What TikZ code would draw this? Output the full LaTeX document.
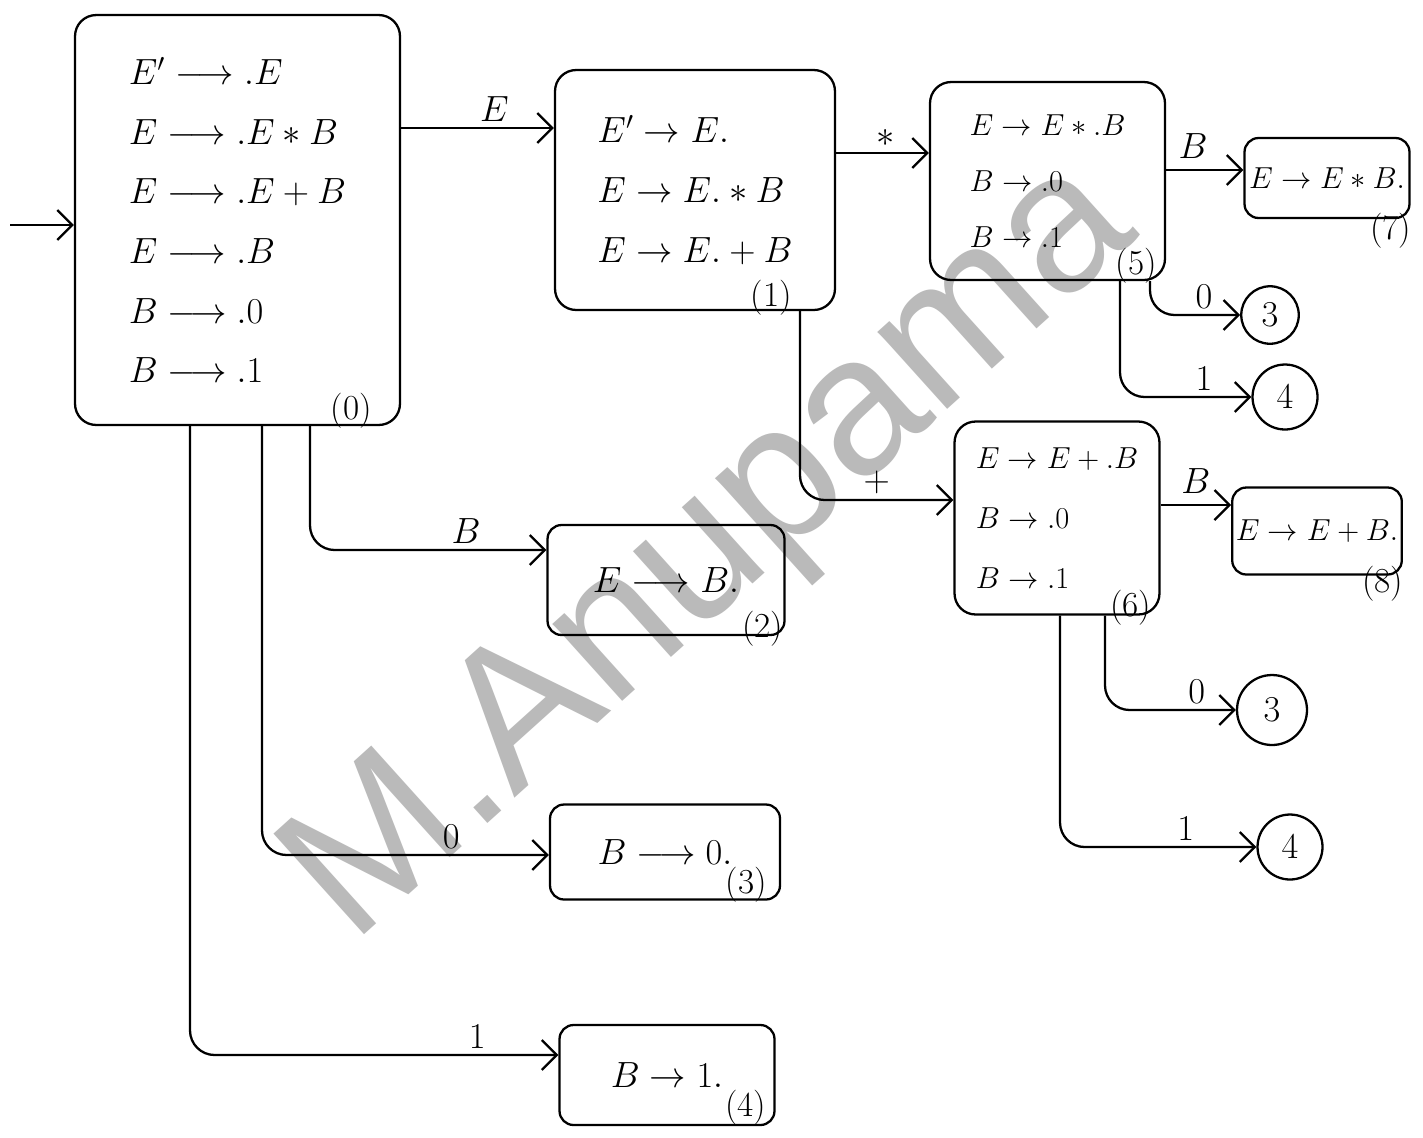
\documentclass[tikz,border=0pt]{standalone}
\usepackage{amsmath}
\usepackage{fontspec}
\newfontfamily\markfont{Liberation Sans}
\usetikzlibrary{positioning, arrows.meta, backgrounds}

\begin{document}
\begin{tikzpicture}[
    x = 0.02cm, y = -0.02cm,
    line width = 1.3pt,
    every node/.style = {font = \fontsize{20}{34}\selectfont},
    state/.style     = {draw, rounded corners = 12pt, align = left, inner sep = 2pt},
    leaf/.style      = {draw, rounded corners = 8pt, align = center, inner sep = 2pt},
    goto/.style      = {draw, circle, inner sep = 0pt},
    numlab/.style    = {font = \fontsize{20}{22}\selectfont, inner sep = 0pt},
    lab/.style       = {above, inner sep = 3pt, font = \fontsize{20}{22}\selectfont},
    arr/.style       = {-{Straight Barb[length=3mm, width=6mm]}, rounded corners = 14pt},
    watermark/.style = {font = \markfont\fontsize{112}{112}\selectfont, text = black!27, rotate = 42},
]
\useasboundingbox (0,0) rectangle (1423,1137);
\fill[white] (0,0) rectangle (1423,1137);

% ---------- watermark ----------
\node[watermark] (wm) at (715,555) {M.Anupama};

% ---------- item sets: (x, y) in px of the sheet ----------
\node[state, minimum width = 6.5cm, minimum height = 8.2cm] (s0) at (237.5,220)
    {$E' \longrightarrow .E$ \\ $E \longrightarrow .E*B$ \\ $E \longrightarrow .E+B$ \\
     $E \longrightarrow .B$ \\ $B \longrightarrow .0$ \\ $B \longrightarrow .1$};
\node[state, minimum width = 5.6cm, minimum height = 4.8cm] (s1) at (695,190)
    {$E' \rightarrow E.$ \\ $E \rightarrow E.*B$ \\ $E \rightarrow E.+B$};
\node[state, minimum width = 4.7cm, minimum height = 3.96cm, font = \fontsize{19}{32}\selectfont] (s5) at (1047.5,181)
    {$E \rightarrow E*.B$ \\ $B \rightarrow .0$ \\ $B \rightarrow .1$};
\node[state, minimum width = 4.1cm, minimum height = 3.86cm, font = \fontsize{18}{34}\selectfont] (s6) at (1057,518)
    {$E \rightarrow E+.B$ \\ $B \rightarrow .0$ \\ $B \rightarrow .1$};

\node[leaf, minimum width = 3.3cm, minimum height = 1.6cm, font = \fontsize{16}{20}\selectfont]  (s7) at (1327,178) {$E \rightarrow E*B.$};
\node[leaf, minimum width = 3.3cm, minimum height = 1.74cm, font = \fontsize{16}{20}\selectfont] (s8) at (1317,531) {$E \rightarrow E+B.$};
\node[leaf, minimum width = 4.74cm, minimum height = 2.2cm] (s2) at (666,580)  {$E \longrightarrow B.$};
\node[leaf, minimum width = 4.6cm, minimum height = 1.9cm]  (s3) at (665,852)  {$B \longrightarrow 0.$};
\node[leaf, minimum width = 4.3cm, minimum height = 2.0cm]  (s4) at (667,1075) {$B \rightarrow 1.$};

\node[goto, minimum size = 1.15cm] (g3a) at (1270,315) {$3$};
\node[goto, minimum size = 1.3cm]  (g4a) at (1285,397) {$4$};
\node[goto, minimum size = 1.4cm]  (g3b) at (1272,710) {$3$};
\node[goto, minimum size = 1.3cm]  (g4b) at (1290,847) {$4$};

% ---------- state numbers ----------
\node[numlab] (n0) at ([shift={(-50,-15)}]s0.south east) {(0)};
\node[numlab] (n1) at ([shift={(-65,-13)}]s1.south east) {(1)};
\node[numlab] (n5) at ([shift={(-30,-15)}]s5.south east) {(5)};
\node[numlab] (n7) at ([shift={(-20,12)}]s7.south east)  {(7)};
\node[numlab] (n6) at ([shift={(-30,-8)}]s6.south east)  {(6)};
\node[numlab] (n8) at ([shift={(-20,8)}]s8.south east)   {(8)};
\node[numlab] (n2) at ([shift={(-23,-7)}]s2.south east)  {(2)};
\node[numlab] (n3) at ([shift={(-35,-16)}]s3.south east) {(3)};
\node[numlab] (n4) at ([shift={(-30,-18)}]s4.south east) {(4)};

% ---------- transitions ----------
\coordinate (start) at (10,225);
\draw[arr] (start) -- (s0.west |- start);

\draw[arr] (s0.east |- 0,128) -- node[lab, pos=0.61] {$E$} (s1.west |- 0,128);
\draw[arr] (s1.east |- 0,153) -- node[lab, pos=0.53] {$*$} (s5.west |- 0,153);
\draw[arr] (s5.east |- 0,170) -- node[lab, pos=0.35, inner sep=6pt] {$B$} (s7.west |- 0,170);
\draw[arr] (s6.east |- 0,505) -- node[lab, pos=0.5, inner sep=6pt]  {$B$} (s8.west |- 0,505);

\draw[arr] (s5.south -| 1150,0) |- node[lab, pos=0.8]  {$0$} (g3a.west);
\draw[arr] (s5.south -| 1120,0) |- node[lab, pos=0.82] {$1$} (g4a.west);
\draw[arr] (s1.south -| 800,0)  |- node[lab, pos=0.75] {$+$} (s6.west |- 0,500);
\draw[arr] (s6.south -| 1105,0) |- node[lab, pos=0.85] {$0$} (g3b.west);
\draw[arr] (s6.south -| 1060,0) |- node[lab, pos=0.82] {$1$} (g4b.west);

\draw[arr] (s0.south -| 310,0) |- node[lab, pos=0.83] {$B$} (s2.west |- 0,550);
\draw[arr] (s0.south -| 262,0) |- node[lab, pos=0.83] {$0$} (s3.west |- 0,855);
\draw[arr] (s0.south -| 190,0) |- node[lab, pos=0.89] {$1$} (s4.west |- 0,1055);

\end{tikzpicture}
\end{document}
